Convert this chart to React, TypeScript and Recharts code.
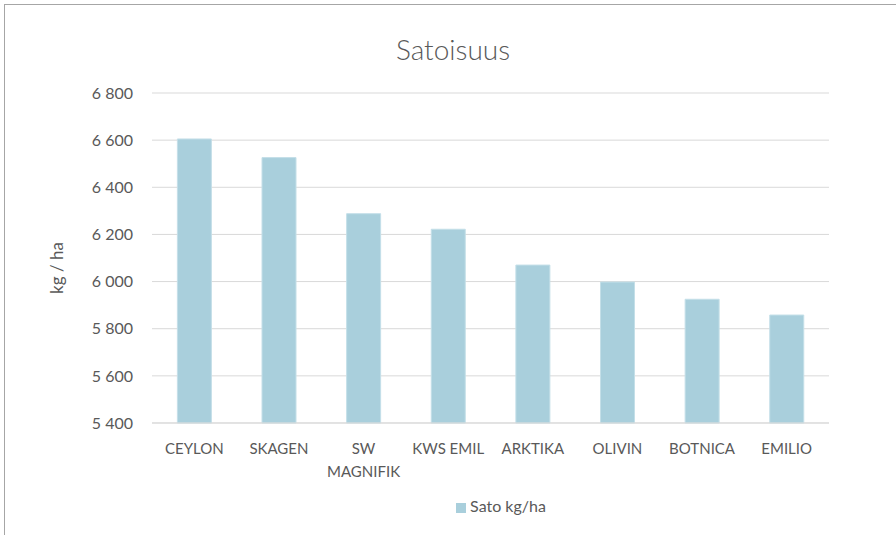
import { BarChart, Bar, XAxis, YAxis, CartesianGrid, Legend, Text } from 'recharts'

const varieties = ['CEYLON', 'SKAGEN', 'SW MAGNIFIK', 'KWS EMIL', 'ARKTIKA', 'OLIVIN', 'BOTNICA', 'EMILIO']
const yields = [6605, 6526, 6288, 6222, 6070, 5998, 5925, 5858]
const yTicks = [5400, 5600, 5800, 6000, 6200, 6400, 6600, 6800]

const data = varieties.map((name, i) => ({ name, sato: yields[i] }))

const FONT = 'Lato, "Open Sans", sans-serif'
const TEXT = '#595959'

const fmt = (v: number) => String(v).replace(/\B(?=(\d{3})+(?!\d))/g, ' ')

function XTick(props: any) {
  const { x, y, payload } = props
  return (
    <Text
      x={x}
      y={y}
      width={82}
      textAnchor="middle"
      verticalAnchor="start"
      lineHeight={23}
      fill={TEXT}
      style={{ fontSize: 15, fontFamily: FONT }}
    >
      {payload.value}
    </Text>
  )
}

function YLabel() {
  return (
    <text
      x={56}
      y={268}
      transform="rotate(-90, 56, 268)"
      textAnchor="middle"
      dominantBaseline="central"
      fill={TEXT}
      style={{ fontSize: 17, fontFamily: FONT }}
    >
      kg / ha
    </text>
  )
}

export default function App() {
  return (
    <div style={{ position: 'absolute', left: 0, top: 0, width: 896, height: 535, overflow: 'hidden', background: '#fff' }}>
      <div style={{ position: 'absolute', left: 4, top: 4, width: 920, height: 560, border: '1px solid #a6a6a6' }} />
      <div style={{ position: 'absolute', left: 5, top: 32, width: 896, textAlign: 'center', fontFamily: FONT, fontSize: 28, fontWeight: 300, color: TEXT, lineHeight: 'normal' }}>
        Satoisuus
      </div>
      <BarChart width={896} height={535} data={data} margin={{ top: 93, right: 67, bottom: 82, left: 80 }} barCategoryGap="30%">
        <CartesianGrid vertical={false} stroke="#d9d9d9" />
        <XAxis
          dataKey="name"
          tick={<XTick />}
          tickLine={false}
          axisLine={{ stroke: '#d9d9d9' }}
          tickSize={0}
          tickMargin={20}
          interval={0}
        />
        <YAxis
          width={72}
          domain={[5400, 6800]}
          ticks={yTicks}
          tickFormatter={fmt}
          tickLine={false}
          axisLine={false}
          tickSize={0}
          tickMargin={19}
          tick={{ fill: TEXT, fontSize: 16, fontFamily: FONT }}
          label={<YLabel />}
        />
        <Legend
          verticalAlign="middle"
          iconType="square"
          iconSize={10}
          wrapperStyle={{ top: 496, left: 58, width: 896 }}
          formatter={(v: string) => <span style={{ color: TEXT, fontSize: 16, fontFamily: FONT }}>{v}</span>}
        />
        <Bar dataKey="sato" name="Sato kg/ha" fill="#a9cfdc" stroke="#c4dfe8" strokeWidth={1} isAnimationActive={false} />
      </BarChart>
    </div>
  )
}
